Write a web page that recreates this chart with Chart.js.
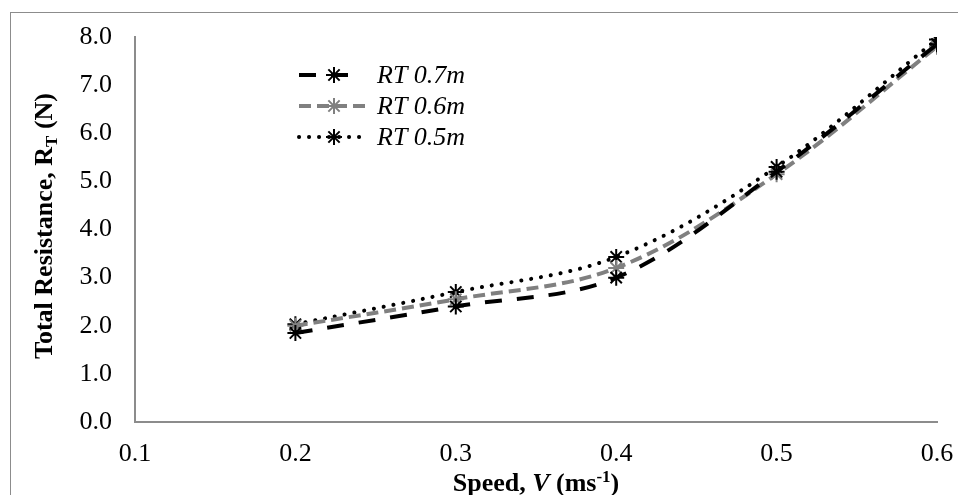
<!DOCTYPE html>
<html>
<head>
<meta charset="utf-8">
<script src="https://cdn.jsdelivr.net/npm/chart.js@4.4.1/dist/chart.umd.min.js"></script>
<style>
    html, body { margin: 0; padding: 0; background: #fff; }
    #wrap { width: 958px; height: 495px; position: relative; }
</style>
</head>
<body>
<div id="wrap"><canvas id="rtChart"></canvas></div>
<script>
// Datos
const speeds = [0.2, 0.3, 0.4, 0.5, 0.6];
const rt07 = [1.85, 2.4, 3.0, 5.2, 7.85];
const rt06 = [2.0, 2.55, 3.2, 5.15, 7.8];
const rt05 = [2.03, 2.7, 3.43, 5.3, 7.95];
const seriesNames = ['RT 0.7m', 'RT 0.6m', 'RT 0.5m'];
const xTicks = [0.1, 0.2, 0.3, 0.4, 0.5, 0.6];
const yTicks = [0, 1, 2, 3, 4, 5, 6, 7, 8];

const serif = '"Liberation Serif", "Times New Roman", serif';
const styles = [
    { color: '#000000', dash: [17, 15], cap: 'butt', legendEnd: 350 },
    { color: '#808080', dash: [12, 6], cap: 'butt', legendEnd: 368 },
    { color: '#000000', dash: [0.1, 9.9], cap: 'round', legendEnd: 360 }
];

function toPoints(values) {
    return speeds.map(function(s, i) { return { x: s, y: values[i] }; });
}

function makeDataset(label, values, st) {
    return {
        label: label,
        data: toPoints(values),
        borderColor: st.color,
        borderWidth: 4,
        borderDash: st.dash,
        borderCapStyle: st.cap,
        tension: 0.35,
        fill: false,
        pointStyle: 'star',
        pointRadius: 8,
        pointBorderWidth: 2,
        pointBorderColor: st.color,
        pointBackgroundColor: st.color,
        legendEnd: st.legendEnd
    };
}

// Helper: dibuja un texto compuesto (subíndices / superíndices)
function drawParts(ctx, parts, cx, y) {
    let total = 0;
    parts.forEach(function(p) { ctx.font = p.f; p.w = ctx.measureText(p.t).width; total += p.w; });
    let x = cx - total / 2;
    parts.forEach(function(p) { ctx.font = p.f; ctx.fillText(p.t, x, y + p.dy); x += p.w; });
}

// Marco exterior, títulos de ejes y leyenda dibujados a mano
const decorPlugin = {
    id: 'decor',
    beforeDraw(chart) {
        const ctx = chart.ctx;
        ctx.save();
        ctx.strokeStyle = '#8c8c8c';
        ctx.lineWidth = 1;
        ctx.strokeRect(10.5, 12.5, 960, 500);
        ctx.restore();
    },
    afterDraw(chart) {
        const ctx = chart.ctx;
        const area = chart.chartArea;
        const bold = 'bold 26px ' + serif;
        const sub = 'bold 17px ' + serif;
        ctx.save();
        ctx.fillStyle = '#000';
        ctx.textBaseline = 'alphabetic';

        // Título eje Y con subíndice
        ctx.save();
        ctx.translate(52, 226);
        ctx.rotate(-Math.PI / 2);
        drawParts(ctx, [
            { t: 'Total Resistance, R', f: bold, dy: 0 },
            { t: 'T', f: sub, dy: 5 },
            { t: ' (N)', f: bold, dy: 0 }
        ], 0, 0);
        ctx.restore();

        // Título eje X con superíndice
        drawParts(ctx, [
            { t: 'Speed, ', f: bold, dy: 0 },
            { t: 'V', f: 'italic bold 26px ' + serif, dy: 0 },
            { t: ' (ms', f: bold, dy: 0 },
            { t: '-1', f: sub, dy: -9 },
            { t: ')', f: bold, dy: 0 }
        ], (area.left + area.right) / 2, 491);

        // Leyenda
        const rowsY = [75, 106, 137];
        chart.data.datasets.forEach(function(ds, i) {
            const y = rowsY[i];
            ctx.save();
            ctx.strokeStyle = ds.borderColor;
            ctx.lineWidth = 4;
            ctx.lineCap = ds.borderCapStyle;
            ctx.setLineDash(ds.borderDash);
            ctx.beginPath();
            ctx.moveTo(299, y);
            ctx.lineTo(ds.legendEnd, y);
            ctx.stroke();
            ctx.restore();

            ctx.save();
            ctx.strokeStyle = ds.borderColor;
            ctx.lineWidth = 2;
            ctx.beginPath();
            const r = 8, cx = 334;
            ctx.moveTo(cx, y - r); ctx.lineTo(cx, y + r);
            ctx.moveTo(cx - r, y); ctx.lineTo(cx + r, y);
            const d = r * Math.SQRT1_2;
            ctx.moveTo(cx - d, y - d); ctx.lineTo(cx + d, y + d);
            ctx.moveTo(cx - d, y + d); ctx.lineTo(cx + d, y - d);
            ctx.stroke();
            ctx.restore();

            ctx.font = 'italic 26px ' + serif;
            ctx.fillStyle = '#000';
            ctx.textBaseline = 'middle';
            ctx.fillText(ds.label, 377, y + 1);
        });
        ctx.restore();
    }
};

document.addEventListener('DOMContentLoaded', function() {
    const ctx = document.getElementById('rtChart').getContext('2d');
    new Chart(ctx, {
        type: 'line',
        data: {
            datasets: [
                makeDataset(seriesNames[0], rt07, styles[0]),
                makeDataset(seriesNames[1], rt06, styles[1]),
                makeDataset(seriesNames[2], rt05, styles[2])
            ]
        },
        options: {
            responsive: true,
            maintainAspectRatio: false,
            animation: false,
            layout: { padding: { top: 37, right: 21, left: 0, bottom: 0 } },
            plugins: {
                legend: { display: false },
                tooltip: { enabled: false }
            },
            scales: {
                x: {
                    type: 'linear',
                    min: xTicks[0],
                    max: xTicks[xTicks.length - 1],
                    afterFit: function(scale) {
                        scale.height = 73;
                        scale.paddingLeft = 0;
                        scale.paddingRight = 0;
                    },
                    afterBuildTicks: function(scale) {
                        scale.ticks = xTicks.map(function(v) { return { value: v }; });
                    },
                    ticks: {
                        color: '#000',
                        padding: 17,
                        maxRotation: 0,
                        font: { family: serif, size: 26 },
                        callback: function(v) { return Number(v).toFixed(1); }
                    },
                    grid: { display: false, drawTicks: false },
                    border: { color: '#8c8c8c', width: 2 }
                },
                y: {
                    min: yTicks[0],
                    max: yTicks[yTicks.length - 1],
                    afterFit: function(scale) {
                        scale.width = 135;
                        scale.paddingTop = 0;
                        scale.paddingBottom = 0;
                    },
                    afterBuildTicks: function(scale) {
                        scale.ticks = yTicks.map(function(v) { return { value: v }; });
                    },
                    ticks: {
                        color: '#000',
                        padding: 23,
                        font: { family: serif, size: 26 },
                        callback: function(v) { return Number(v).toFixed(1); }
                    },
                    grid: { display: false, drawTicks: false },
                    border: { color: '#8c8c8c', width: 2 }
                }
            }
        },
        plugins: [decorPlugin]
    });
});
</script>
</body>
</html>
